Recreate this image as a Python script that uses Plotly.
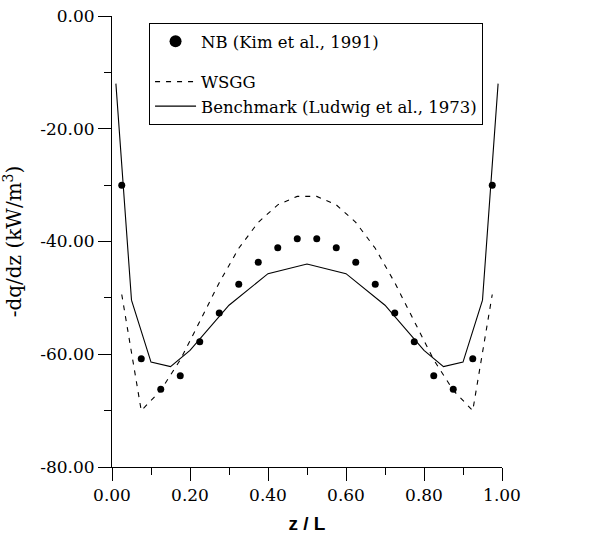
import plotly.graph_objects as go

# ---- data ----
nb_x = [0.025, 0.075, 0.125, 0.175, 0.225, 0.275, 0.325, 0.375, 0.425, 0.475,
        0.525, 0.575, 0.625, 0.675, 0.725, 0.775, 0.825, 0.875, 0.925, 0.975]
nb_y = [-30.0, -60.8, -66.2, -63.8, -57.8, -52.7, -47.6, -43.7, -41.1, -39.5,
        -39.5, -41.1, -43.7, -47.6, -52.7, -57.8, -63.8, -66.2, -60.8, -30.0]

wsgg_x = nb_x
wsgg_y = [-49.4, -70.0, -66.4, -61.0, -54.2, -47.3, -41.2, -36.6, -33.5, -32.0,
          -32.0, -33.5, -36.6, -41.2, -47.3, -54.2, -61.0, -66.4, -70.0, -49.4]

bench_x = [0.01, 0.05, 0.10, 0.15, 0.20, 0.30, 0.40, 0.50,
           0.60, 0.70, 0.80, 0.85, 0.90, 0.95, 0.99]
bench_y = [-12.0, -50.4, -61.4, -62.2, -59.3, -51.3, -45.7, -44.0,
           -45.7, -51.3, -59.3, -62.2, -61.4, -50.4, -12.0]

x_tickvals = [0.0, 0.2, 0.4, 0.6, 0.8, 1.0]
x_ticktext = ["0.00", "0.20", "0.40", "0.60", "0.80", "1.00"]
y_tickvals = [0, -20, -40, -60, -80]
y_ticktext = ["0.00", "-20.00", "-40.00", "-60.00", "-80.00"]

names = ["NB (Kim et al., 1991)", "WSGG", "Benchmark (Ludwig et al., 1973)"]

SERIF = "DejaVu Serif"

fig = go.Figure()
fig.add_trace(go.Scatter(x=nb_x, y=nb_y, mode="markers", name=names[0],
                         legendgroup="a", showlegend=False,
                         marker=dict(color="black", size=7, symbol="circle")))
fig.add_trace(go.Scatter(x=[None], y=[None], mode="markers", name=names[0],
                         legendgroup="a", showlegend=True,
                         marker=dict(color="black", size=12, symbol="circle")))
fig.add_trace(go.Scatter(x=wsgg_x, y=wsgg_y, mode="lines", name=names[1],
                         legendgroup="b",
                         line=dict(color="black", width=1.1, dash="5px,6px")))
fig.add_trace(go.Scatter(x=bench_x, y=bench_y, mode="lines", name=names[2],
                         legendgroup="b",
                         line=dict(color="black", width=1.1)))

axis_common = dict(
    showgrid=False, zeroline=False, showline=True, linecolor="black",
    linewidth=1, ticks="outside", tickcolor="black", tickwidth=1,
    ticklen=13, tickfont=dict(family=SERIF, size=17, color="black"),
    mirror=False, automargin=False,
)

fig.update_layout(
    width=606, height=542,
    margin=dict(l=112, r=104, t=16, b=75),
    paper_bgcolor="white", plot_bgcolor="white",
    font=dict(family=SERIF, color="black"),
    showlegend=True,
    legend=dict(
        x=0.095, y=0.9845, xanchor="left", yanchor="top",
        bgcolor="white", bordercolor="black", borderwidth=1,
        font=dict(family=SERIF, size=16.5, color="black"),
        itemwidth=41,
        traceorder="grouped", tracegroupgap=16,
    ),
    xaxis=dict(
        range=[0, 1], tickmode="array", tickvals=x_tickvals, ticktext=x_ticktext,
        minor=dict(dtick=0.1, ticks="outside", ticklen=7, tickcolor="black", tickwidth=1),
        title=dict(text="<b>z / L</b>",
                   font=dict(family="Liberation Sans", size=19, color="black"),
                   standoff=12),
        **axis_common,
    ),
    yaxis=dict(
        range=[-80, 0], tickmode="array", tickvals=y_tickvals, ticktext=y_ticktext,
        minor=dict(dtick=10, ticks="outside", ticklen=7, tickcolor="black", tickwidth=1),
        title=dict(text="-dq/dz (kW/m<sup>3</sup>)",
                   font=dict(family=SERIF, size=20, color="black"),
                   standoff=14),
        **axis_common,
    ),
)

fig.write_html("out.html")
